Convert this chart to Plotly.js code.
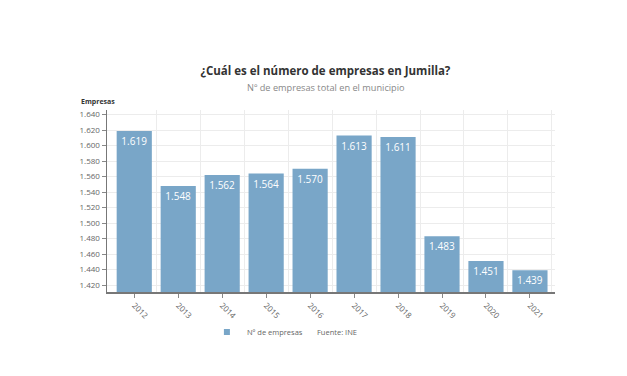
<!DOCTYPE html>
<html>
<head>
<meta charset="utf-8">
<script src="https://cdn.plot.ly/plotly-3.0.1.min.js"></script>
<style>html,body{margin:0;padding:0;background:#fff;}#chart{width:627px;height:376px;}</style>
</head>
<body>
<div id="chart"></div>
<script>
const years = ['2012','2013','2014','2015','2016','2017','2018','2019','2020','2021'];
const empresas = [1619, 1548, 1562, 1564, 1570, 1613, 1611, 1483, 1451, 1439];
const yTicks = [1420,1440,1460,1480,1500,1520,1540,1560,1580,1600,1620,1640];
const seriesName = 'Nº de empresas';
const barColor = '#79a6c8';

const idx = years.map((_, i) => i);
const fmt = v => v.toLocaleString('de-DE');
const font = 'Open Sans, sans-serif';

const trace = {
  type: 'bar',
  x: idx,
  y: empresas,
  width: 0.8,
  name: seriesName,
  showlegend: false,
  marker: {color: barColor},
  text: empresas.map(fmt),
  textposition: 'inside',
  insidetextanchor: 'end',
  textfont: {color: '#ffffff', size: 10, family: font},
  hoverinfo: 'x+y'
};
// legend entry with a small square marker
const legendTrace = {
  type: 'scatter', x: [null], y: [null], mode: 'markers', name: seriesName,
  marker: {symbol: 'square', size: 6, color: barColor}, showlegend: true
};
// invisible trace for vertical category-boundary grid axis
const gridTrace = {
  type: 'scatter', x: [idx[0]], y: [empresas[0]], xaxis: 'x2',
  mode: 'markers', marker: {opacity: 0}, showlegend: false, hoverinfo: 'skip'
};

const layout = {
  width: 627, height: 376,
  paper_bgcolor: '#ffffff', plot_bgcolor: '#ffffff',
  separators: ',.',
  margin: {l: 107, r: 72, t: 110, b: 84},
  font: {family: font, color: '#555'},
  title: {text: '<b>¿Cuál es el número de empresas en Jumilla?</b>', font: {size: 11.5, color: '#333', family: font}, x: 0.519, xanchor: 'center', y: 0.811, yanchor: 'middle', yref: 'container'},
  xaxis: {
    range: [-0.62, 9.57],
    tickvals: idx, ticktext: years,
    tickangle: 45,
    tickfont: {size: 8, color: '#666'},
    showgrid: false, zeroline: false,
    showline: true, linecolor: '#777', linewidth: 1.5,
    ticks: 'outside', ticklen: 4, tickcolor: '#888'
  },
  xaxis2: {
    overlaying: 'x', range: [-0.62, 9.57],
    tickvals: idx.map(i => i + 0.5), showticklabels: false,
    showgrid: true, gridcolor: '#ececec', gridwidth: 1, zeroline: false, ticks: ''
  },
  yaxis: {
    range: [1411, 1646],
    tickvals: yTicks, ticktext: yTicks.map(fmt),
    tickfont: {size: 8, color: '#666'},
    showgrid: true, gridcolor: '#ececec', zeroline: false,
    showline: true, linecolor: '#777', linewidth: 1.5,
    ticks: 'outside', ticklen: 4, tickcolor: '#888'
  },
  bargap: 0.2,
  showlegend: true,
  legend: {orientation: 'h', xref: 'container', yref: 'container', x: 0.33, xanchor: 'left', y: 0.117, yanchor: 'middle', font: {size: 7.5, color: '#666'}, itemwidth: 30, bgcolor: 'rgba(0,0,0,0)'},
  annotations: [
    {text: 'Nº de empresas total en el municipio', xref: 'paper', yref: 'paper', x: 0.488, y: 1.0, yshift: 23, xanchor: 'center', yanchor: 'middle', showarrow: false, font: {size: 9.2, color: '#888', family: font}},
    {text: '<b>Empresas</b>', xref: 'paper', yref: 'paper', x: 0, xshift: -28, y: 1.0, yshift: 9, xanchor: 'left', yanchor: 'middle', showarrow: false, font: {size: 7, color: '#333', family: font}},
    {text: 'Fuente: INE', xref: 'paper', yref: 'paper', x: 0.464, y: -0.22, xanchor: 'left', yanchor: 'middle', showarrow: false, font: {size: 7.5, color: '#666', family: font}}
  ]
};

Plotly.newPlot('chart', [trace, legendTrace, gridTrace], layout, {displayModeBar: false, staticPlot: true});
</script>
</body>
</html>
